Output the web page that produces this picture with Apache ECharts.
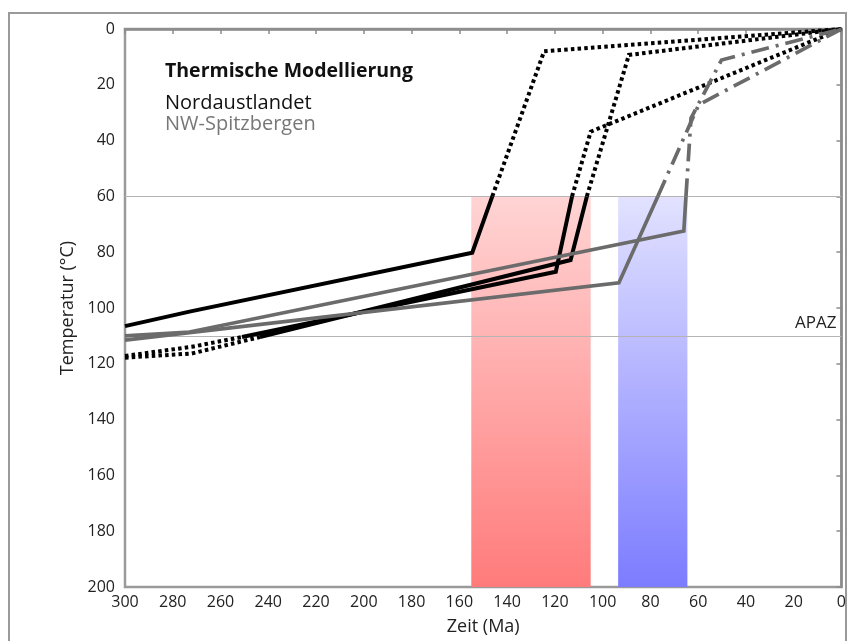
<!DOCTYPE html>
<html>
<head>
<meta charset="utf-8">
<script src="https://cdn.jsdelivr.net/npm/echarts@6/dist/echarts.min.js"></script>
<style>
html,body{margin:0;padding:0;background:#fff;}
#chart{width:849px;height:641px;}
</style>
</head>
<body>
<div id="chart"></div>
<script>
// ---- data (x: Zeit in Ma, y: Temperatur in °C) ----
const nord1Solid      = [[300,106.5],[273,101.3],[154.6,80.2],[146.2,60]];
const nord1Dotted     = [[146.2,60],[124.5,8],[0,0]];
const nord2DottedLow  = [[300,117.2],[272,113.9],[251,110.4]];
const nord2Solid      = [[251,110.4],[119.6,87],[112.8,60]];
const nord2DottedHigh = [[112.8,60],[105,36.8],[0,0]];
const nord3DottedLow  = [[300,117.8],[272,116.3],[243.5,110.4]];
const nord3Solid      = [[243.5,110.4],[113.4,82.8],[106.6,60]];
const nord3DottedHigh = [[106.6,60],[89,9.3],[0,0]];
const spitzASolid     = [[300,111.5],[93.2,91],[76.9,60]];
const spitzADashDot   = [[76.9,60],[59.8,27.2],[0,0]];
const spitzBSolid     = [[300,110],[273,108.6],[66,72.4],[65.1,60]];
const spitzBDashDot   = [[65.1,60],[63,32],[50.2,11.1],[0,0]];
const redBand   = [155,105];   // Ma
const blueBand  = [93.5,64.5]; // Ma
const bandTemps = [60,200];    // °C
const zoneLines = [60,110];    // °C
const titleText = 'Thermische Modellierung';
const nameNord  = 'Nordaustlandet';
const nameSpitz = 'NW-Spitzbergen';
const zoneLabel = 'APAZ';

const FONT = '"Open Sans", sans-serif';
const BLACK = '#000000';
const GRAY = '#6b6b6b';

function lineSeries(data, color, width, type) {
  return {
    type: 'line', data: data, symbol: 'none', z: 5, silent: true,
    lineStyle: { color: color, width: width, type: type, cap: 'butt', join: 'miter' },
    animation: false
  };
}
const dotted = [3.5, 3.2];
const dashDot = [18, 7, 3, 7];

const series = [
  {
    type: 'line', data: [], symbol: 'none', z: 1, silent: true, animation: false,
    markArea: {
      silent: true,
      data: [
        [{ xAxis: redBand[0], yAxis: bandTemps[0],
           itemStyle: { color: { type: 'linear', x: 0, y: 0, x2: 0, y2: 1,
             colorStops: [{ offset: 0, color: '#ffd4d4' }, { offset: 1, color: '#ff7b7b' }] } } },
         { xAxis: redBand[1], yAxis: bandTemps[1] }],
        [{ xAxis: blueBand[0], yAxis: bandTemps[0],
           itemStyle: { color: { type: 'linear', x: 0, y: 0, x2: 0, y2: 1,
             colorStops: [{ offset: 0, color: '#e2e2ff' }, { offset: 1, color: '#7c7cff' }] } } },
         { xAxis: blueBand[1], yAxis: bandTemps[1] }]
      ]
    }
  },
  {
    type: 'line', data: [], symbol: 'none', z: 2, silent: true, animation: false,
    markLine: {
      silent: true, symbol: ['none', 'none'], animation: false,
      lineStyle: { color: '#b4b4b4', width: 1, type: 'solid' },
      label: { show: false },
      data: [
        { yAxis: zoneLines[0] },
        { yAxis: zoneLines[1], label: { show: true, position: 'insideStartTop', formatter: zoneLabel,
          color: '#222', fontFamily: FONT, fontSize: 17, distance: [5, 4] } }
      ]
    }
  },
  lineSeries(nord1Solid, BLACK, 4, 'solid'),
  lineSeries(nord1Dotted, BLACK, 4, dotted),
  lineSeries(nord2DottedLow, BLACK, 4, dotted),
  lineSeries(nord2Solid, BLACK, 4, 'solid'),
  lineSeries(nord2DottedHigh, BLACK, 4, dotted),
  lineSeries(nord3DottedLow, BLACK, 4, dotted),
  lineSeries(nord3Solid, BLACK, 4, 'solid'),
  lineSeries(nord3DottedHigh, BLACK, 4, dotted),
  lineSeries(spitzASolid, GRAY, 3.7, 'solid'),
  lineSeries(spitzADashDot, GRAY, 3.7, dashDot),
  lineSeries(spitzBSolid, GRAY, 3.7, 'solid'),
  lineSeries(spitzBDashDot, GRAY, 3.7, dashDot)
];

const chart = echarts.init(document.getElementById('chart'), null, { renderer: 'canvas' });
chart.setOption({
  animation: false,
  backgroundColor: '#ffffff',
  grid: { left: 125, right: 6, top: 29, bottom: 54, show: true,
          borderColor: '#9a9a9a', borderWidth: 2.5, backgroundColor: 'transparent' },
  xAxis: {
    type: 'value', min: 0, max: 300, interval: 20, inverse: true,
    name: 'Zeit (Ma)', nameLocation: 'middle', nameGap: 31,
    nameTextStyle: { fontFamily: FONT, fontSize: 18, color: '#222' },
    axisLine: { show: true, lineStyle: { color: '#8c8c8c', width: 2.5 } },
    axisTick: { show: true, length: 5, lineStyle: { color: '#8c8c8c', width: 1.5 } },
    axisLabel: { fontFamily: FONT, fontSize: 16, color: '#222', margin: 7 },
    splitLine: { show: false }
  },
  yAxis: {
    type: 'value', min: 0, max: 200, interval: 20, inverse: true,
    name: 'Temperatur (°C)', nameLocation: 'middle', nameGap: 46,
    nameTextStyle: { fontFamily: FONT, fontSize: 18, color: '#222' },
    axisLine: { show: true, lineStyle: { color: '#8c8c8c', width: 2.5 } },
    axisTick: { show: true, length: 5, lineStyle: { color: '#8c8c8c', width: 1.5 } },
    axisLabel: { fontFamily: FONT, fontSize: 16, color: '#222', margin: 10 },
    splitLine: { show: false }
  },
  graphic: [
    { type: 'rect', silent: true, z: 0,
      shape: { x: 9, y: 13, width: 837, height: 640 },
      style: { fill: 'none', stroke: '#9a9a9a', lineWidth: 2 } },
    { type: 'text', left: 165, top: 61, silent: true, z: 10,
      style: { text: titleText, fontFamily: FONT, fontWeight: 'bold', fontSize: 19.5, fill: '#111' } },
    { type: 'text', left: 165, top: 93, silent: true, z: 10,
      style: { text: nameNord, fontFamily: FONT, fontSize: 20, fill: '#111' } },
    { type: 'text', left: 165, top: 114, silent: true, z: 10,
      style: { text: nameSpitz, fontFamily: FONT, fontSize: 20, fill: '#777777' } }
  ],
  series: series
});
</script>
</body>
</html>
